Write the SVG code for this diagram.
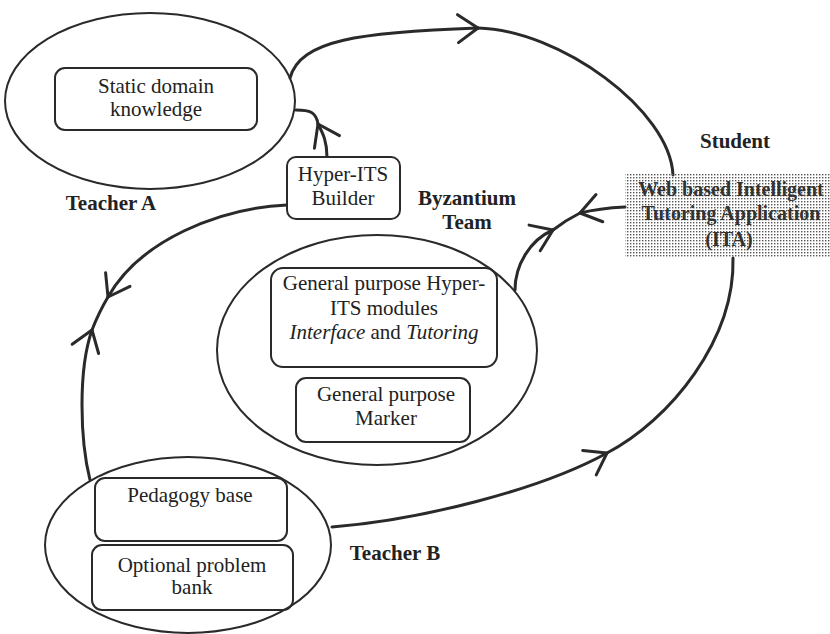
<svg xmlns="http://www.w3.org/2000/svg" width="830" height="634" viewBox="0 0 830 634">
<style>
.ell{fill:none;stroke:#2a2a2a;stroke-width:2}
.box{fill:none;stroke:#2a2a2a;stroke-width:2}
.t{font-family:"Liberation Serif","Times New Roman",serif;font-size:21px;fill:#222;text-anchor:middle}
.b{font-family:"Liberation Serif","Times New Roman",serif;font-size:21px;font-weight:bold;fill:#222;text-anchor:middle}
.ita{font-family:"Liberation Serif","Times New Roman",serif;font-size:20px;font-weight:bold;fill:#333;text-anchor:middle}
.c{fill:none;stroke:#2a2a2a;stroke-width:3;stroke-linecap:round}
</style>
<defs>
<pattern id="dots" width="3" height="3" patternUnits="userSpaceOnUse">
<rect x="0" y="0" width="1.4" height="1.4" fill="#555"/>
</pattern>
<marker id="arr" markerUnits="userSpaceOnUse" markerWidth="40" markerHeight="40" viewBox="-30 -20 40 40" refX="0" refY="0" orient="auto">
<path d="M -20 -14 L 0 0 L -20 14" fill="none" stroke="#2a2a2a" stroke-width="3" stroke-linecap="round" stroke-linejoin="round"/>
</marker>
</defs>
<rect width="830" height="634" fill="#fff"/>

<g id="connectors">
<path class="c" d="M 290 78 C 300 40 360 32 478 28" marker-end="url(#arr)"/>
<path class="c" d="M 478 28 C 560 30 670 110 673 175"/>
<path class="c" d="M 332 527 C 420 520 540 490 607 453" marker-end="url(#arr)"/>
<path class="c" d="M 607 453 C 670 420 735 340 733 258"/>
<path class="c" d="M 287 205 C 220 208 140 240 108 297" marker-end="url(#arr)"/>
<path class="c" d="M 90 480 C 80 440 78 370 92 330" marker-end="url(#arr)"/>
<path class="c" d="M 92 330 Q 99 312 108 297"/>
<path class="c" d="M 327 157 C 327 140 322 132 318 124" marker-end="url(#arr)"/>
<path class="c" d="M 318 124 C 316 112 310 110 296 110"/>
<path class="c" d="M 625 207 C 605 208 592 210 580 213" marker-end="url(#arr)"/>
<path class="c" d="M 515 290 C 515 265 530 240 553 230" marker-end="url(#arr)"/>
<path class="c" d="M 553 230 Q 566 220 580 213"/>
</g>

<g id="teacherA">
<ellipse class="ell" cx="150" cy="101" rx="145" ry="88"/>
<text class="b" x="111" y="210">Teacher A</text>
</g>
<g id="static-domain">
<rect class="box" x="55" y="68" width="202" height="62" rx="10"/>
<text class="t" x="156" y="93">Static domain</text>
<text class="t" x="156" y="116">knowledge</text>
</g>
<g id="builder">
<rect class="box" x="287" y="157" width="113" height="62" rx="9" style="fill:#fff"/>
<text class="t" x="343" y="181">Hyper-ITS</text>
<text class="t" x="343" y="205">Builder</text>
</g>
<g id="byzantium">
<ellipse class="ell" cx="377" cy="350" rx="160" ry="115"/>
<text class="b" x="467" y="205">Byzantium</text>
<text class="b" x="467" y="229">Team</text>
</g>
<g id="modules">
<rect class="box" x="271" y="268" width="226" height="99" rx="12"/>
<text class="t" x="384" y="290">General purpose Hyper-</text>
<text class="t" x="384" y="315">ITS modules</text>
<text class="t" x="384" y="339"><tspan font-style="italic">Interface</tspan> and <tspan font-style="italic">Tutoring</tspan></text>
</g>
<g id="marker">
<rect class="box" x="296" y="378" width="174" height="64" rx="10"/>
<text class="t" x="386" y="401">General purpose</text>
<text class="t" x="386" y="425">Marker</text>
</g>
<g id="student">
<rect x="625" y="174" width="205" height="84" fill="url(#dots)"/>
<text class="b" x="735" y="148">Student</text>
<text class="ita" x="731" y="196">Web based Intelligent</text>
<text class="ita" x="731" y="220">Tutoring Application</text>
<text class="ita" x="729" y="246">(ITA)</text>
</g>
<g id="teacherB">
<ellipse class="ell" cx="188" cy="545" rx="143" ry="88"/>
<text class="b" x="395" y="560">Teacher B</text>
</g>
<g id="pedagogy">
<rect class="box" x="95" y="478" width="192" height="63" rx="10"/>
<text class="t" x="190" y="502">Pedagogy base</text>
</g>
<g id="problem-bank">
<rect class="box" x="92" y="545" width="201" height="65" rx="10"/>
<text class="t" x="192" y="572">Optional problem</text>
<text class="t" x="192" y="594">bank</text>
</g>
</svg>
